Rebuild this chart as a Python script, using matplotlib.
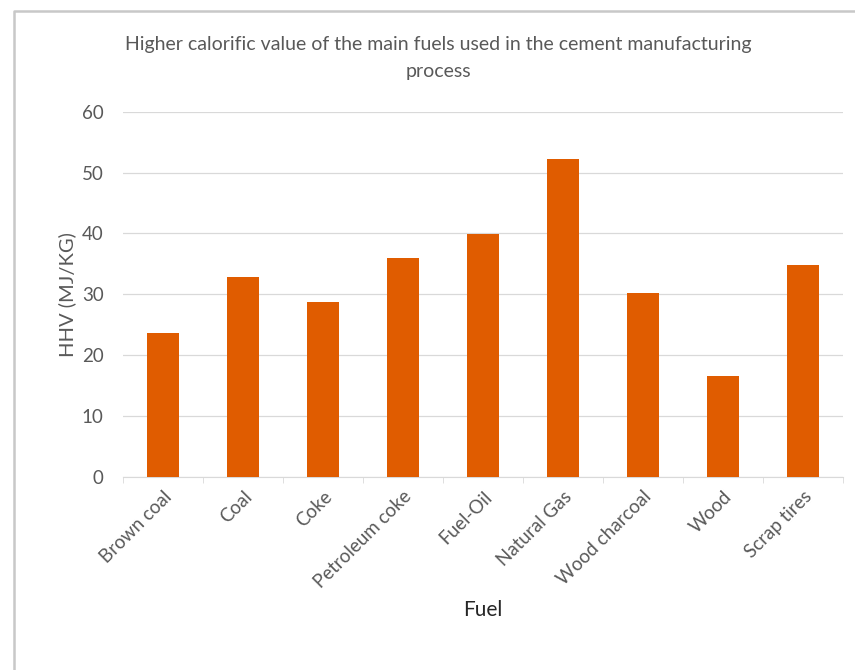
import matplotlib
matplotlib.use('Agg')
import matplotlib.pyplot as plt
import matplotlib.lines as mlines
import numpy as np

# Data
fuels = ['Brown coal', 'Coal', 'Coke', 'Petroleum coke', 'Fuel-Oil',
         'Natural Gas', 'Wood charcoal', 'Wood', 'Scrap tires']
hhv = [23.7, 32.8, 28.7, 36.0, 39.9, 52.2, 30.2, 16.5, 34.8]
yticks = [0, 10, 20, 30, 40, 50, 60]

plt.rcParams['font.family'] = ['Lato', 'DejaVu Sans']
txt_col = '#595959'

fig = plt.figure(figsize=(8.55, 6.70), dpi=100)
ax = fig.add_axes([0.1439, 0.2885, 0.842, 0.5448])

x = np.arange(len(fuels))
ax.bar(x, hhv, width=0.4, color='#E05C00', zorder=3)

ax.set_ylim(0, 60)
ax.set_xlim(-0.5, len(fuels) - 0.5)
ax.set_yticks(yticks)
ax.set_xticks(x)
ax.set_xticklabels(fuels, rotation=45, ha='right', rotation_mode='anchor',
                   fontsize=13.5, color=txt_col)
ax.set_xticks(np.arange(-0.5, len(fuels)), minor=True)
ax.tick_params(axis='y', length=0, labelsize=13.5, labelcolor=txt_col, pad=14)
ax.tick_params(axis='x', which='major', length=0, pad=8)
ax.tick_params(axis='x', which='minor', length=4, color='#d9d9d9')
ax.grid(axis='y', color='#d9d9d9', linewidth=0.9, zorder=0)

for s in ['top', 'right', 'left']:
    ax.spines[s].set_visible(False)
ax.spines['bottom'].set_color('#d9d9d9')

ax.set_ylabel('HHV (MJ/KG)', fontsize=14.5, color=txt_col, labelpad=4)
ax.set_xlabel('Fuel', fontsize=15, color='#262626', labelpad=6)

fig.text(0.513, 0.933, 'Higher calorific value of the main fuels used in the cement manufacturing',
         ha='center', va='center', fontsize=14, color=txt_col)
fig.text(0.513, 0.893, 'process', ha='center', va='center', fontsize=14,
         color=txt_col)

# chart border (only top and left edges visible in the crop)
fig.lines.append(mlines.Line2D([0.0164, 0.0164, 1.0], [0.0, 0.984, 0.984],
                               transform=fig.transFigure, color='#c8c8c8',
                               linewidth=1.8))

fig.savefig('out.png', dpi=100)
